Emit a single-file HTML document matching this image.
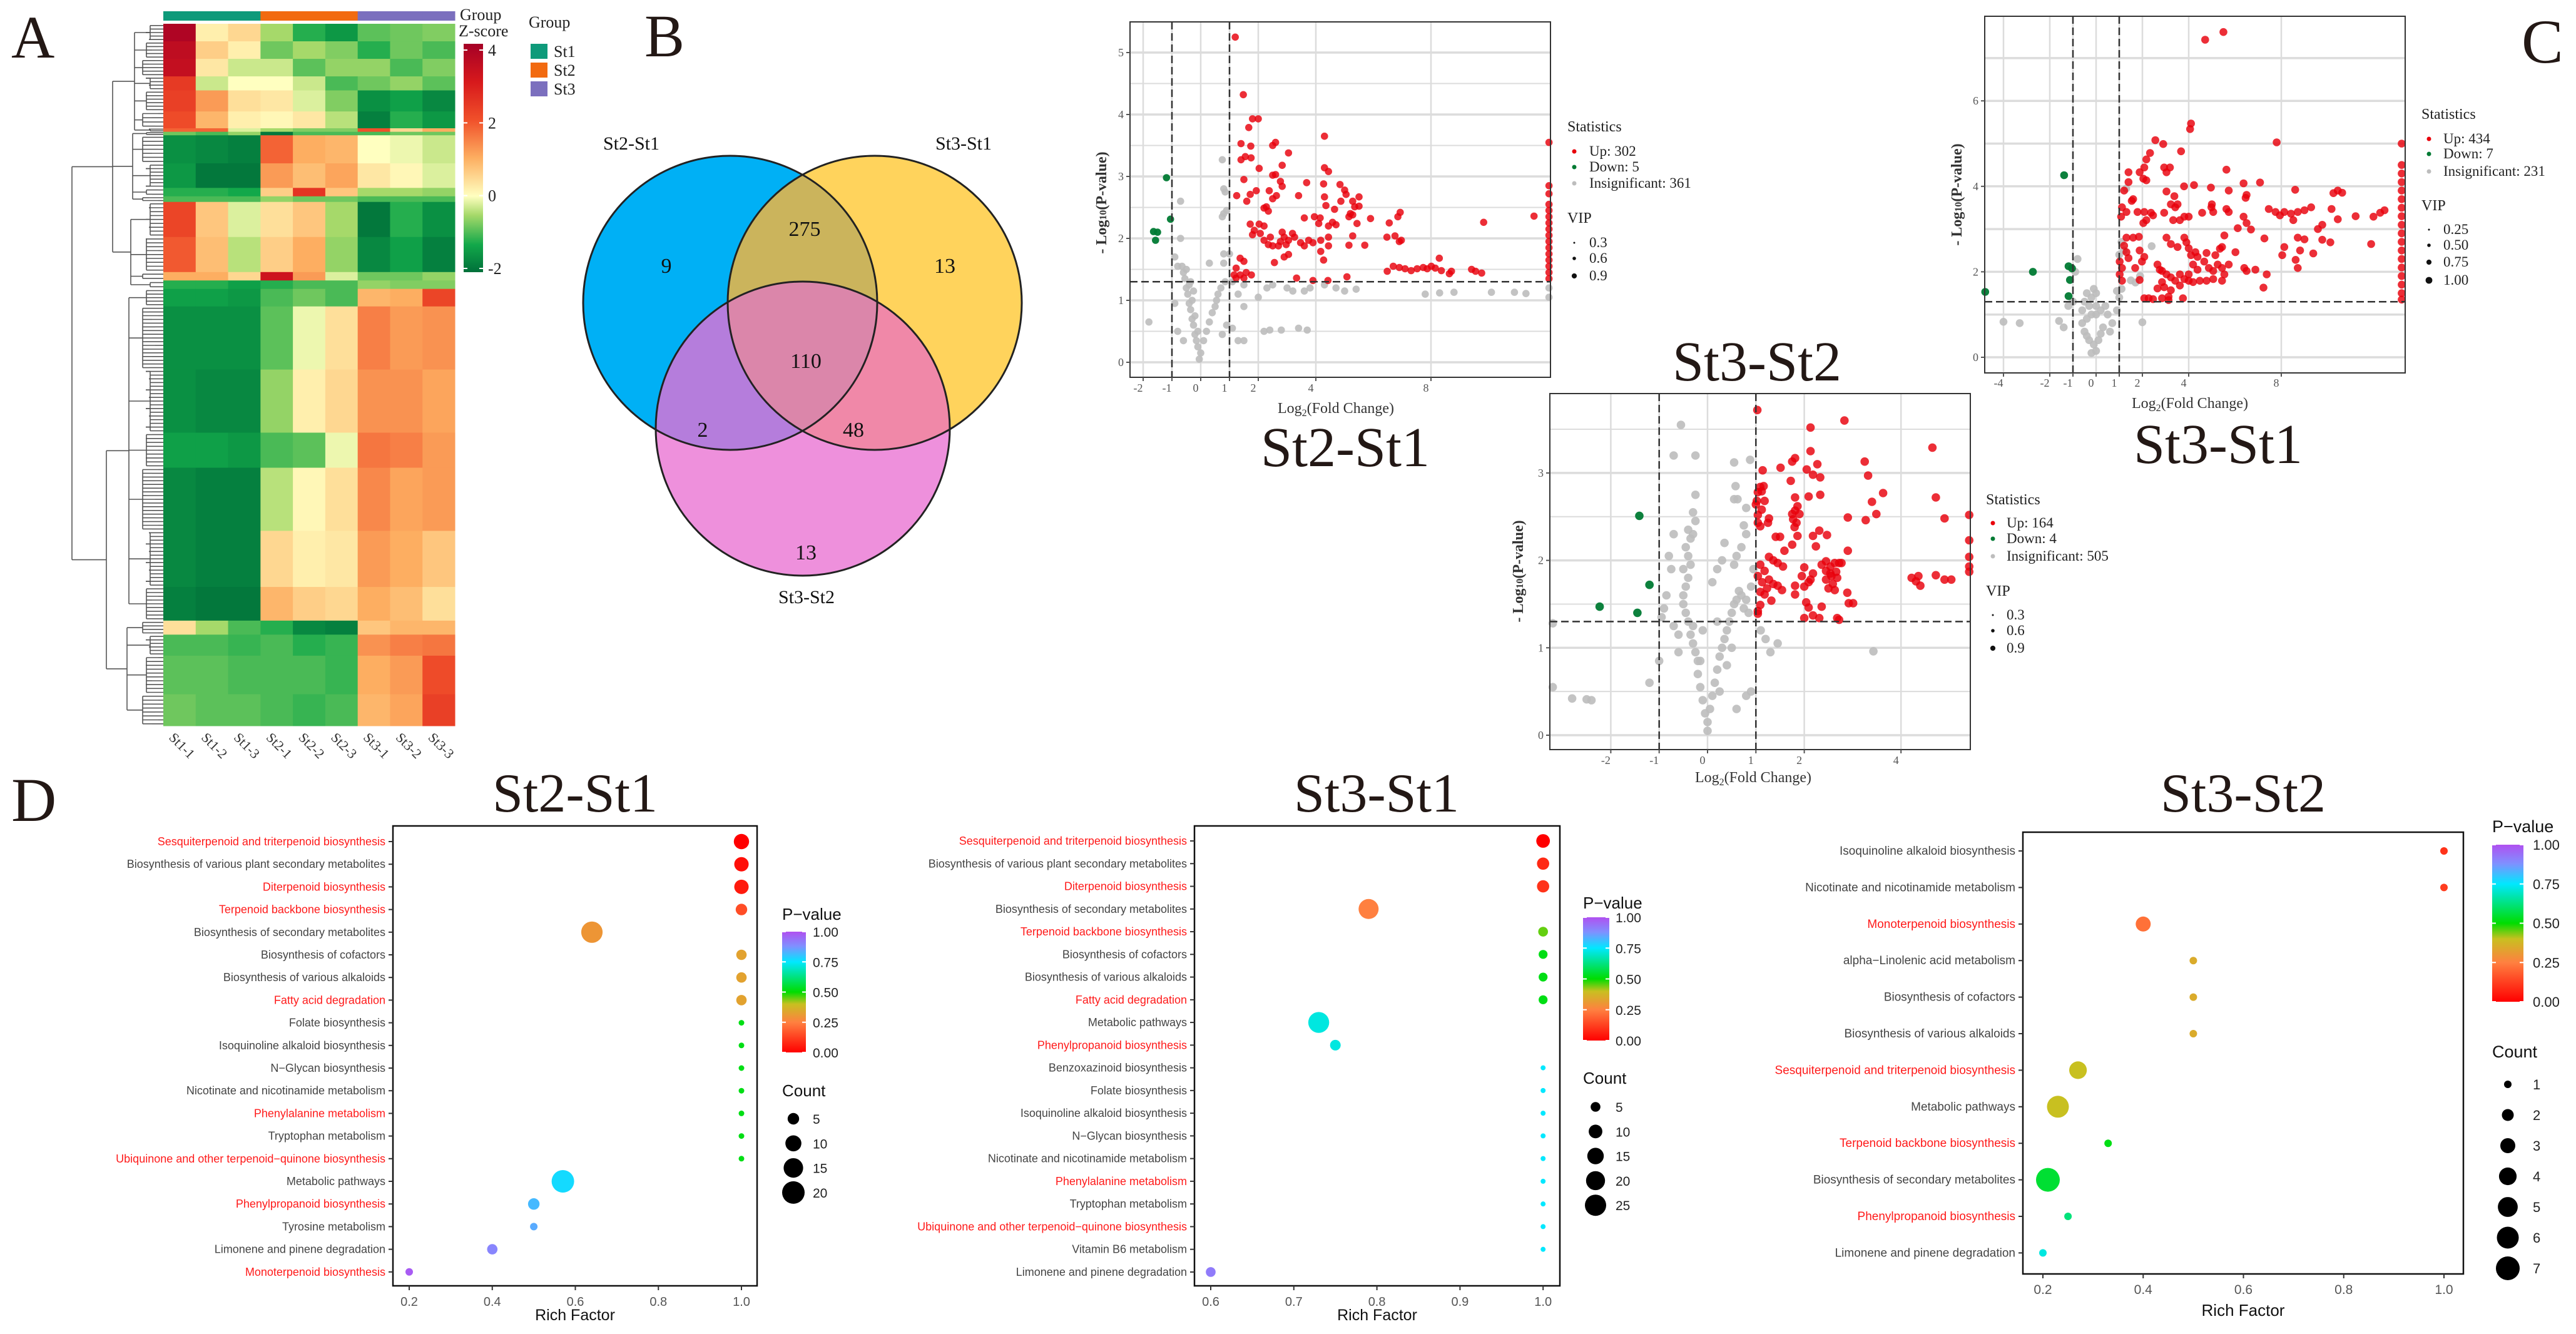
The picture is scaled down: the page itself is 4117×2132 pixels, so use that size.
<!DOCTYPE html>
<html><head><meta charset="utf-8"><title>Figure</title>
<style>html,body{margin:0;padding:0;background:#fff}svg{display:block}</style></head>
<body>
<svg id="fig" xmlns="http://www.w3.org/2000/svg" width="4117" height="2132" viewBox="0 0 4117 2132">
<rect x="0" y="0" width="4117" height="2132" fill="#fff"/>
<defs>
<linearGradient id="zgrad" x1="0" y1="1" x2="0" y2="0">
<stop offset="0" stop-color="#00703a"/><stop offset="0.12" stop-color="#12a84a"/><stop offset="0.25" stop-color="#a6d96a"/><stop offset="0.333" stop-color="#ffffc0"/><stop offset="0.5" stop-color="#fdae61"/><stop offset="0.667" stop-color="#f0502a"/><stop offset="0.833" stop-color="#d7191c"/><stop offset="1" stop-color="#a50026"/>
</linearGradient>
<linearGradient id="pgrad" x1="0" y1="1" x2="0" y2="0">
<stop offset="0" stop-color="#ff0000"/><stop offset="0.25" stop-color="#ff8040"/><stop offset="0.4" stop-color="#c8c020"/><stop offset="0.5" stop-color="#00dd00"/><stop offset="0.75" stop-color="#00e8ff"/><stop offset="0.88" stop-color="#8090ff"/><stop offset="1" stop-color="#b050f0"/>
</linearGradient>
<clipPath id="cBlue"><circle cx="1167" cy="484" r="235"/></clipPath>
<clipPath id="cYellow"><circle cx="1398" cy="484" r="235"/></clipPath>
<clipPath id="cPink"><circle cx="1283" cy="685" r="235"/></clipPath>
</defs>

<text x="18" y="92" font-family="Liberation Serif, serif" font-size="96" fill="#231815">A</text>
<text x="1030" y="90" font-family="Liberation Serif, serif" font-size="96" fill="#231815">B</text>
<text x="4030" y="100" font-family="Liberation Serif, serif" font-size="100" fill="#231815">C</text>
<text x="18" y="1312" font-family="Liberation Serif, serif" font-size="100" fill="#231815">D</text>

<g id="venn">
<circle cx="1167" cy="484" r="235" fill="#00b0f5"/>
<circle cx="1398" cy="484" r="235" fill="#ffd35c"/>
<circle cx="1283" cy="685" r="235" fill="#ee90dc"/>
<g clip-path="url(#cBlue)"><circle cx="1398" cy="484" r="235" fill="#cbb45c"/></g>
<g clip-path="url(#cBlue)"><circle cx="1283" cy="685" r="235" fill="#b57ddc"/></g>
<g clip-path="url(#cYellow)"><circle cx="1283" cy="685" r="235" fill="#f088a8"/></g>
<g clip-path="url(#cBlue)"><g clip-path="url(#cYellow)"><circle cx="1283" cy="685" r="235" fill="#db86aa"/></g></g>
<circle cx="1167" cy="484" r="235" fill="none" stroke="#222" stroke-width="3"/>
<circle cx="1398" cy="484" r="235" fill="none" stroke="#222" stroke-width="3"/>
<circle cx="1283" cy="685" r="235" fill="none" stroke="#222" stroke-width="3"/>
<g font-family="Liberation Serif, serif" font-size="30" fill="#111" text-anchor="middle">
<text x="1009" y="239">St2-St1</text>
<text x="1540" y="239">St3-St1</text>
<text x="1289" y="964">St3-St2</text>
</g>
<g font-family="Liberation Serif, serif" font-size="34" fill="#111" text-anchor="middle">
<text x="1065" y="436">9</text>
<text x="1286" y="377">275</text>
<text x="1510" y="436">13</text>
<text x="1288" y="588">110</text>
<text x="1123" y="698">2</text>
<text x="1364" y="698">48</text>
<text x="1288" y="894">13</text>
</g>
</g>

<g font-family="Liberation Serif, serif" font-size="90" fill="#231815" text-anchor="middle">
<text x="2150" y="745">St2-St1</text>
<text x="3545" y="740">St3-St1</text>
<text x="2808" y="608">St3-St2</text>
</g>
<g font-family="Liberation Serif, serif" font-size="88" fill="#231815" text-anchor="middle">
<text x="919" y="1297">St2-St1</text>
<text x="2200" y="1297">St3-St1</text>
<text x="3585" y="1297">St3-St2</text>
</g>
</svg>

<script>
var hmSamples = ["St1-1","St1-2","St1-3","St2-1","St2-2","St2-3","St3-1","St3-2","St3-3"];
var hmGroups = ["St1","St1","St1","St2","St2","St2","St3","St3","St3"];
var hmBandWeights = [2.5,2.5,2.5,2,3,2.4,0.5, 0.5,4,3.5,1.2,0.8, 5,5,1.2,1.2, 2.5,9,9,5,9,8,4.8, 2,3,5.5,4.5];
var hmBandCluster = [0,0,0,0,0,0,0, 1,1,1,1,1, 2,2,2,2, 3,3,3,3,3,3,3, 4,4,4,4];
var hmBandValues = [
[3.8,0.2,0.5,-0.5,-1.2,-1.5,-0.9,-0.8,-0.7],
[3.5,0.6,0.2,-0.8,-0.5,-0.7,-1.2,-0.8,-1.0],
[3.4,0.3,-0.3,-0.3,-0.9,-0.6,-0.6,-1.0,-0.7],
[2.4,-0.3,0.0,0.0,-0.3,-1.0,-0.8,-0.6,-0.9],
[2.3,1.2,0.4,0.3,-0.2,-0.7,-1.6,-1.4,-1.7],
[2.1,0.9,0.2,0.1,0.3,-0.4,-1.8,-1.2,-1.5],
[1.8,1.8,-0.2,-0.5,-0.7,-0.7,2.0,0.5,1.0],
[-0.8,-1,-0.6,-1.9,-1.0,-1.0,-1.0,-0.8,-0.8],
[-1.6,-1.7,-1.8,1.8,1.0,0.9,0,-0.1,-0.3],
[-1.5,-1.9,-1.9,1.2,0.8,1.1,0.3,0.1,-0.2],
[-1.2,-1.2,-1.3,0.6,2.5,0.7,-0.5,-0.5,-0.6],
[-1,-1,-1,-0.6,-0.8,-0.8,-1,-1,-1],
[2.2,0.7,-0.2,0.4,0.7,-0.5,-1.9,-1.2,-1.6],
[1.9,0.8,-0.4,0.6,1.0,-0.6,-1.7,-1.4,-1.8],
[1.0,1.0,0.5,3.2,1.2,-0.2,-0.8,-0.8,-0.6],
[-1.2,-1.2,-1.4,-1.2,-1.0,-1.0,-0.6,-0.7,-0.7],
[-1.4,-1.4,-1.5,-1.0,-0.8,-1.0,0.9,1.0,2.2],
[-1.6,-1.6,-1.6,-0.9,-0.1,0.4,1.5,1.2,1.3],
[-1.6,-1.7,-1.7,-0.6,0.2,0.5,1.3,1.3,1.1],
[-1.4,-1.4,-1.5,-1.0,-0.9,-0.1,1.6,1.5,1.2],
[-1.7,-1.8,-1.8,-0.4,0.1,0.4,1.4,1.1,1.2],
[-1.7,-1.8,-1.8,0.5,0.2,0.3,1.2,1.0,0.7],
[-1.8,-1.9,-1.9,0.9,0.6,0.5,1.0,0.8,0.4],
[0.4,-0.5,-1.0,-1.2,-1.7,-1.8,0.7,0.9,0.9],
[-1.0,-1.0,-1.1,-1.0,-1.2,-1.1,1.3,1.5,1.6],
[-0.9,-0.9,-1.0,-1.0,-1.0,-1.1,1.0,1.2,2.1],
[-0.8,-0.9,-0.9,-1.0,-1.1,-1.0,0.9,1.1,2.3]
];
var hmZTicks = [4,2,0,-2];

var v1Up = [[1.2,5.25],[1.48,4.32],[1.8,3.93],[2.0,3.93],[1.67,3.79],[1.4,3.53],[1.74,3.49],[1.4,3.27],[1.55,3.32],[1.75,3.3],[2.5,3.5],[2.6,3.55],[3.05,3.38],[2.83,3.18],[2.03,3.13],[2.5,3.02],[2.6,3.03],[1.5,2.95],[2.77,2.92],[2.83,2.84],[1.25,2.69],[1.72,2.71],[1.6,2.6],[1.93,2.77],[2.38,2.77],[2.63,2.69],[2.5,2.64],[2.28,2.51],[2.35,2.44],[2.2,2.49],[3.4,2.69],[3.68,2.9],[4.3,3.65],[4.3,3.14],[4.44,3.08],[4.27,2.88],[4.84,2.87],[5.0,2.78],[5.05,2.71],[4.3,2.67],[4.35,2.53],[5.28,2.6],[5.5,2.67],[5.35,2.51],[5.5,2.52],[4.87,2.6],[4.65,2.47],[3.6,2.33],[3.95,2.35],[4.1,2.24],[4.15,2.33],[4.44,2.2],[4.7,2.22],[4.58,2.26],[5.15,2.35],[5.2,2.4],[5.28,2.38],[5.43,2.24],[5.9,2.32],[2.03,2.23],[1.72,2.23],[1.86,2.13],[1.8,2.06],[2.2,2.2],[2.07,2.08],[2.2,1.97],[2.35,1.9],[2.5,1.88],[2.42,2.02],[2.83,2.1],[2.9,2.02],[3.05,1.97],[3.19,2.08],[2.97,1.9],[2.77,1.95],[2.7,1.88],[3.26,2.02],[3.47,1.93],[3.75,1.97],[3.9,1.93],[3.6,1.88],[3.05,1.74],[2.9,1.7],[2.56,1.61],[4.17,1.97],[4.44,2.02],[4.17,1.79],[4.27,1.65],[4.44,1.88],[5.15,1.89],[5.28,2.04],[5.7,1.89],[6.47,2.02],[6.55,2.25],[6.85,2.35],[6.93,2.42],[6.75,2.04],[6.9,1.95],[6.97,1.97],[1.37,1.68],[1.5,1.63],[1.23,1.52],[1.16,1.41],[1.37,1.41],[1.58,1.45],[1.76,1.41],[1.23,1.36],[1.5,1.36],[3.33,1.36],[3.9,1.32],[4.42,1.32],[5.08,1.38],[6.48,1.47],[6.69,1.55],[6.9,1.53],[7.1,1.51],[7.31,1.48],[7.52,1.51],[7.73,1.53],[7.87,1.51],[8.01,1.55],[8.15,1.52],[8.29,1.68],[8.36,1.48],[8.71,1.47],[8.64,1.43],[9.41,1.5],[9.55,1.47],[9.76,1.44],[9.83,2.26],[11.58,2.36],[12.1,1.35],[12.1,1.45],[12.1,1.55],[12.1,1.65],[12.1,1.75],[12.1,1.85],[12.1,1.95],[12.1,2.05],[12.1,2.15],[12.1,2.25],[12.1,2.35],[12.1,2.45],[12.1,2.55],[12.1,2.72],[12.1,2.85],[12.1,3.55]];
var v1Down = [[-1.19,2.98],[-1.05,2.31],[-1.64,2.11],[-1.5,2.1],[-1.57,1.97]];
var v1Ns = [[-0.05,0.05],[0,0.15],[-0.1,0.25],[-0.15,0.35],[-0.2,0.45],[-0.1,0.5],[-0.25,0.6],[-0.3,0.7],[-0.2,0.75],[-0.35,0.85],[-0.4,0.95],[-0.3,1.0],[-0.45,1.1],[-0.5,1.2],[-0.4,1.25],[-0.55,1.35],[-0.6,1.45],[-0.5,1.5],[-0.65,1.55],[-0.35,1.3],[-0.25,1.15],[0.1,0.35],[0.2,0.5],[0.3,0.65],[0.4,0.8],[0.5,0.9],[0.55,1.0],[0.6,1.1],[0.7,1.2],[0.9,0.6],[0.75,0.45],[0.85,1.3],[0.8,1.6],[1.0,1.75],[0.8,1.75],[0.75,2.35],[0.8,2.4],[0.9,2.45],[0.85,2.75],[0.8,2.8],[0.75,3.27],[-0.7,2.6],[-0.7,2.0],[-0.9,1.7],[-0.8,1.55],[-1.8,0.65],[-0.8,0.5],[-0.6,0.35],[0.3,1.6],[1.1,1.3],[1.3,1.1],[1.5,0.9],[1.5,1.25],[2.0,1.05],[2.3,1.2],[2.5,1.25],[3.0,1.2],[3.2,1.15],[3.6,1.15],[3.8,1.2],[4.3,1.25],[4.7,1.2],[5.0,1.15],[5.4,1.18],[2.2,0.5],[2.4,0.52],[2.8,0.52],[3.4,0.55],[3.7,0.52],[1.3,0.35],[1.5,0.35],[7.8,1.1],[8.3,1.12],[8.8,1.13],[10.1,1.13],[10.9,1.13],[11.3,1.11],[12.1,1.2],[12.1,1.05],[1.1,0.55],[-0.9,0.95]];
var v1XTicks = [-2,-1,0,1,2,4,8];
var v1YTicks = [0,1,2,3,4,5];
var v1Legend = ["Up: 302","Down: 5","Insignificant: 361"];
var v1Vip = ["0.3","0.6","0.9"];

var v2Up = [[4.71,7.43],[5.5,7.61],[4.1,5.47],[4.06,5.34],[7.8,5.03],[2.56,5.08],[2.9,4.99],[3.67,4.82],[2.33,4.78],[2.17,4.63],[2.94,4.44],[3.19,4.44],[3.04,4.33],[2.08,4.44],[1.88,4.33],[1.4,4.33],[5.63,4.39],[2.04,4.18],[2.17,4.14],[1.4,4.1],[3.8,4.0],[4.23,4.03],[4.96,3.97],[6.37,4.07],[7.08,4.09],[5.73,3.9],[8.6,3.92],[1.21,3.9],[1.54,3.66],[1.6,3.7],[3.04,3.88],[3.38,3.77],[6.5,3.8],[6.46,3.73],[10.25,3.84],[10.44,3.9],[10.63,3.85],[1.12,3.51],[1.31,3.4],[1.08,3.29],[1.79,3.4],[2.08,3.4],[2.37,3.38],[2.46,3.32],[2.17,3.21],[2.04,3.14],[2.94,3.38],[3.23,3.58],[3.42,3.51],[3.52,3.58],[3.33,3.21],[3.62,3.21],[3.81,3.29],[4.0,3.29],[4.58,3.38],[5.0,3.58],[4.98,3.51],[5.06,3.4],[5.63,3.47],[5.73,3.4],[6.37,3.29],[6.5,3.14],[6.69,2.99],[6.12,3.02],[7.46,3.47],[7.75,3.4],[7.94,3.32],[8.13,3.4],[8.42,3.36],[8.71,3.4],[9.0,3.44],[9.29,3.51],[8.52,3.21],[10.17,3.47],[10.44,3.23],[11.21,3.3],[11.98,3.29],[12.27,3.38],[12.46,3.44],[9.58,3.0],[9.77,3.1],[1.31,2.8],[1.6,2.8],[1.85,2.82],[1.21,2.61],[3.04,2.8],[3.23,2.65],[3.52,2.58],[3.81,2.8],[3.9,2.69],[4.0,2.55],[4.29,2.46],[4.1,2.39],[4.38,2.35],[4.77,2.44],[5.15,2.39],[5.44,2.58],[5.35,2.54],[6.02,2.46],[5.54,2.85],[7.27,2.78],[8.13,2.58],[8.71,2.8],[9.0,2.76],[8.81,2.5],[9.38,2.43],[9.77,2.75],[10.12,2.69],[11.88,2.65],[8.04,2.39],[8.62,2.28],[8.71,2.09],[1.31,2.46],[1.4,2.32],[1.88,2.5],[1.02,2.24],[1.12,2.09],[1.02,1.94],[1.12,1.79],[1.69,2.09],[1.98,2.24],[2.08,2.35],[2.65,2.17],[2.85,2.02],[2.75,2.05],[3.04,1.94],[3.23,1.87],[3.42,1.79],[3.62,1.94],[3.81,1.83],[4.0,1.94],[4.19,2.17],[4.38,2.05],[4.67,2.24],[4.87,2.09],[5.06,2.02],[5.25,2.17],[5.44,2.09],[5.73,2.17],[4.0,1.79],[4.19,1.76],[4.48,1.79],[4.77,1.79],[5.06,1.83],[5.44,1.79],[5.54,1.94],[2.85,1.76],[2.94,1.64],[3.23,1.57],[3.62,1.68],[2.65,1.61],[3.13,1.42],[2.08,1.38],[2.27,1.38],[2.46,1.36],[2.85,1.38],[3.13,1.34],[3.75,1.38],[1.88,1.81],[6.4,2.09],[6.5,2.02],[6.88,2.05],[7.37,1.94],[7.23,1.63],[13.2,1.35],[13.2,1.5],[13.2,1.7],[13.2,1.9],[13.2,2.1],[13.2,2.3],[13.2,2.5],[13.2,2.7],[13.2,2.9],[13.2,3.1],[13.2,3.3],[13.2,3.5],[13.2,3.7],[13.2,3.9],[13.2,4.1],[13.2,4.3],[13.2,4.5],[13.2,5.0]];
var v2Down = [[-1.38,4.26],[-2.73,2.0],[-4.79,1.53],[-1.19,2.13],[-1.04,2.08],[-1.13,1.81],[-1.19,1.43]];
var v2Ns = [[-0.2,0.1],[0,0.15],[-0.1,0.3],[-0.3,0.4],[0.1,0.4],[-0.4,0.5],[0.2,0.55],[-0.5,0.6],[-0.6,0.8],[0.3,0.7],[-0.4,0.9],[-0.2,1.0],[0,1.0],[-0.6,1.1],[-0.3,1.2],[0,1.2],[0.2,1.1],[-0.5,1.3],[-0.2,1.4],[0,1.5],[-0.4,1.5],[-0.1,1.6],[0.4,1.2],[0.5,1.0],[0.7,0.8],[0.9,1.1],[1.0,1.4],[0.9,1.55],[1.1,1.6],[1.2,2.5],[1.1,2.7],[1.0,2.4],[1.3,3.95],[1.5,1.8],[1.7,1.75],[1.9,1.9],[2.4,2.6],[-1.0,1.3],[-0.9,2.0],[-0.8,2.3],[-1.4,0.7],[-1.6,0.85],[-4.0,0.83],[-3.3,0.8],[2.0,0.82],[0.6,0.6],[-1.2,1.2]];
var v2XTicks = [-4,-2,-1,0,1,2,4,8];
var v2YTicks = [0,2,4,6];
var v2Legend = ["Up: 434","Down: 7","Insignificant: 231"];
var v2Vip = ["0.25","0.50","0.75","1.00"];

var v3Up = [[1.03,3.72],[2.83,3.6],[2.13,3.52],[4.65,3.29],[2.13,3.25],[1.81,3.17],[1.75,3.13],[3.25,3.13],[3.32,2.97],[2.27,3.1],[2.05,3.04],[2.18,2.98],[2.33,2.95],[1.51,3.06],[1.14,3.03],[1.72,2.91],[1.09,2.84],[1.16,2.85],[1.12,2.79],[1.04,2.78],[1.18,2.68],[1.02,2.68],[1.12,2.58],[1.04,2.52],[1.0,2.64],[1.81,2.72],[2.09,2.73],[2.33,2.75],[1.86,2.62],[1.81,2.57],[1.75,2.53],[1.77,2.47],[1.9,2.53],[1.84,2.43],[1.8,2.38],[1.86,2.28],[3.63,2.77],[3.4,2.67],[3.49,2.53],[2.9,2.49],[3.27,2.46],[4.72,2.72],[4.9,2.48],[5.41,2.52],[1.27,2.48],[1.25,2.43],[1.41,2.27],[1.5,2.27],[1.04,2.43],[1.09,2.39],[1.75,2.18],[1.59,2.11],[2.18,2.28],[2.24,2.16],[2.47,2.29],[2.31,2.34],[2.9,2.11],[5.41,2.23],[5.41,2.04],[5.41,1.93],[5.41,1.87],[1.09,1.95],[1.18,1.88],[1.04,1.82],[1.27,1.78],[1.13,1.75],[1.36,1.73],[1.23,1.68],[1.09,1.64],[1.18,1.61],[1.45,1.71],[1.54,1.66],[1.27,2.04],[1.36,2.0],[1.45,1.97],[1.56,1.93],[2.0,1.92],[1.95,1.82],[2.18,1.85],[2.13,1.78],[2.0,1.7],[1.81,1.71],[1.81,1.61],[2.09,1.75],[2.36,1.95],[2.45,1.99],[2.54,1.93],[2.63,1.97],[2.72,1.97],[2.45,1.88],[2.54,1.85],[2.66,1.87],[2.68,1.8],[2.56,1.82],[2.45,1.78],[2.5,1.68],[2.59,1.73],[2.77,1.97],[2.89,1.63],[2.92,1.51],[3.01,1.51],[2.63,1.66],[1.32,1.54],[1.09,1.49],[1.04,1.42],[1.04,1.39],[2.04,1.52],[2.09,1.46],[2.0,1.34],[2.18,1.37],[2.31,1.34],[2.36,1.47],[2.68,1.34],[2.72,1.32],[4.22,1.8],[4.31,1.76],[4.4,1.71],[4.36,1.82],[4.72,1.83],[4.9,1.78],[5.04,1.78]];
var v3Down = [[-1.41,2.51],[-1.2,1.72],[-2.23,1.47],[-1.45,1.4]];
var v3Ns = [[0,0.05],[0,0.15],[-0.05,0.25],[0.05,0.3],[-0.1,0.4],[0.1,0.45],[-0.15,0.55],[0.15,0.6],[-0.2,0.7],[0.2,0.75],[-0.2,0.85],[-0.25,0.95],[0.25,0.9],[0.3,1.0],[-0.3,1.05],[-0.35,1.15],[0.35,1.1],[0.4,1.2],[-0.3,1.25],[-0.4,1.3],[0.45,1.3],[0.5,1.4],[-0.45,1.4],[-0.5,1.5],[0.55,1.5],[0.6,1.55],[-0.5,1.6],[-0.45,1.7],[0.65,1.65],[0.7,1.6],[0.75,1.45],[0.8,1.55],[0.9,1.7],[0.85,1.4],[-0.4,1.8],[-0.5,1.9],[-0.35,1.95],[-0.4,2.05],[-0.45,2.15],[-0.35,2.25],[-0.4,2.35],[-0.3,2.3],[-0.25,2.45],[-0.3,2.55],[-0.7,2.3],[-0.8,2.05],[-0.75,1.9],[-0.85,1.6],[-0.9,1.45],[-0.95,1.35],[-0.7,1.25],[-0.6,1.15],[-1.0,0.85],[-0.25,2.75],[-0.55,3.55],[-0.7,3.2],[-0.25,3.2],[0.55,3.12],[0.88,3.15],[0.58,2.85],[0.62,2.7],[0.55,2.7],[0.8,2.6],[0.35,2.2],[0.3,2.0],[0.55,1.95],[0.6,2.05],[0.7,2.15],[0.8,2.3],[0.75,2.4],[0.1,1.75],[0.2,1.9],[1.1,1.2],[1.2,1.1],[1.45,1.05],[1.3,0.95],[0.6,0.3],[0.8,0.45],[0.9,0.5],[-2.8,0.42],[-2.5,0.41],[-2.4,0.4],[-3.2,0.55],[-3.2,1.28],[-1.2,0.6],[-0.1,1.2],[0.2,1.3],[0.4,0.8],[-0.6,0.95],[3.43,0.96],[0.95,1.9],[0.5,1.0],[-0.15,0.85],[0.25,0.5]];
var v3XTicks = [-2,-1,0,1,2,4];
var v3YTicks = [0,1,2,3];
var v3Legend = ["Up: 164","Down: 4","Insignificant: 505"];
var v3Vip = ["0.3","0.6","0.9"];

var b1Labels = ["Sesquiterpenoid and triterpenoid biosynthesis","Biosynthesis of various plant secondary metabolites","Diterpenoid biosynthesis","Terpenoid backbone biosynthesis","Biosynthesis of secondary metabolites","Biosynthesis of cofactors","Biosynthesis of various alkaloids","Fatty acid degradation","Folate biosynthesis","Isoquinoline alkaloid biosynthesis","N\u2212Glycan biosynthesis","Nicotinate and nicotinamide metabolism","Phenylalanine metabolism","Tryptophan metabolism","Ubiquinone and other terpenoid\u2212quinone biosynthesis","Metabolic pathways","Phenylpropanoid biosynthesis","Tyrosine metabolism","Limonene and pinene degradation","Monoterpenoid biosynthesis"];
var b1Red = [1,0,1,1,0,0,0,1,0,0,0,0,1,0,1,0,1,0,0,1];
var b1Rich = [1.0,1.0,1.0,1.0,0.64,1.0,1.0,1.0,1.0,1.0,1.0,1.0,1.0,1.0,1.0,0.57,0.5,0.5,0.4,0.2];
var b1Count = [9,8,8,5,18,4,4,4,1,1,1,1,1,1,1,20,5,2,4,2];
var b1P = [0.0,0.03,0.05,0.15,0.3,0.33,0.33,0.33,0.52,0.52,0.52,0.52,0.52,0.52,0.52,0.77,0.82,0.84,0.9,0.98];
var b1XTicks = [0.2,0.4,0.6,0.8,1.0];
var b1CountLegend = [5,10,15,20];

var b2Labels = ["Sesquiterpenoid and triterpenoid biosynthesis","Biosynthesis of various plant secondary metabolites","Diterpenoid biosynthesis","Biosynthesis of secondary metabolites","Terpenoid backbone biosynthesis","Biosynthesis of cofactors","Biosynthesis of various alkaloids","Fatty acid degradation","Metabolic pathways","Phenylpropanoid biosynthesis","Benzoxazinoid biosynthesis","Folate biosynthesis","Isoquinoline alkaloid biosynthesis","N\u2212Glycan biosynthesis","Nicotinate and nicotinamide metabolism","Phenylalanine metabolism","Tryptophan metabolism","Ubiquinone and other terpenoid\u2212quinone biosynthesis","Vitamin B6 metabolism","Limonene and pinene degradation"];
var b2Red = [1,0,1,0,1,0,0,1,0,1,0,0,0,0,0,1,0,1,0,0];
var b2Rich = [1.0,1.0,1.0,0.79,1.0,1.0,1.0,1.0,0.73,0.75,1.0,1.0,1.0,1.0,1.0,1.0,1.0,1.0,1.0,0.6];
var b2Count = [10,8,8,22,5,4,4,4,24,6,1,1,1,1,1,1,1,1,1,5];
var b2P = [0.0,0.08,0.1,0.25,0.45,0.52,0.52,0.52,0.72,0.72,0.75,0.75,0.75,0.75,0.75,0.75,0.75,0.75,0.75,0.92];
var b2XTicks = [0.6,0.7,0.8,0.9,1.0];
var b2CountLegend = [5,10,15,20,25];

var b3Labels = ["Isoquinoline alkaloid biosynthesis","Nicotinate and nicotinamide metabolism","Monoterpenoid biosynthesis","alpha\u2212Linolenic acid metabolism","Biosynthesis of cofactors","Biosynthesis of various alkaloids","Sesquiterpenoid and triterpenoid biosynthesis","Metabolic pathways","Terpenoid backbone biosynthesis","Biosynthesis of secondary metabolites","Phenylpropanoid biosynthesis","Limonene and pinene degradation"];
var b3Red = [0,0,1,0,0,0,1,0,1,0,1,0];
var b3Rich = [1.0,1.0,0.4,0.5,0.5,0.5,0.27,0.23,0.33,0.21,0.25,0.2];
var b3Count = [1,1,3,1,1,1,4,6,1,7,1,1];
var b3P = [0.1,0.12,0.22,0.35,0.35,0.35,0.4,0.4,0.52,0.55,0.62,0.72];
var b3XTicks = [0.2,0.4,0.6,0.8,1.0];
var b3CountLegend = [1,2,3,4,5,6,7];
var pTicks = [1.00,0.75,0.50,0.25,0.00];

var NS = "http://www.w3.org/2000/svg";
var svg = document.getElementById('fig');
function el(tag, attrs, parent){
  var e = document.createElementNS(NS, tag);
  for (var k in attrs) e.setAttribute(k, attrs[k]);
  (parent || svg).appendChild(e);
  return e;
}
function txt(str, attrs, parent){
  var e = el('text', attrs, parent);
  e.textContent = str;
  return e;
}
function hex(h){ return [parseInt(h.substr(1,2),16),parseInt(h.substr(3,2),16),parseInt(h.substr(5,2),16)]; }
function lerpColor(stops, v){
  if (v <= stops[0][0]) return stops[0][1];
  for (var i=1;i<stops.length;i++){
    if (v <= stops[i][0]){
      var a=stops[i-1], b=stops[i], t=(v-a[0])/(b[0]-a[0]);
      var ca=hex(a[1]), cb=hex(b[1]);
      return 'rgb('+Math.round(ca[0]+(cb[0]-ca[0])*t)+','+Math.round(ca[1]+(cb[1]-ca[1])*t)+','+Math.round(ca[2]+(cb[2]-ca[2])*t)+')';
    }
  }
  return stops[stops.length-1][1];
}
var zStops = [[-2,'#00703a'],[-1.3,'#12a84a'],[-0.5,'#a6d96a'],[0,'#ffffc0'],[1,'#fdae61'],[2,'#f0502a'],[3,'#d7191c'],[4,'#a50026']];
var pStops = [[0,'#ff0000'],[0.25,'#ff8040'],[0.4,'#c8c020'],[0.5,'#00dd00'],[0.75,'#00e8ff'],[0.88,'#8090ff'],[1,'#b050f0']];

(function(){
  var g = el('g', {});
  
  
  var L=261, R=727, T=38, B=1160;
  var cw = (R-L)/hmSamples.length;
  var total = hmBandWeights.reduce(function(a,b){return a+b;},0);
  var groupColor = {St1:'#0e9a7a', St2:'#f26a10', St3:'#7b6fbe'};
  hmGroups.forEach(function(gr,i){
    var r = el('rect',{x:L+i*cw, y:18, width:cw+0.5, height:15, fill:groupColor[gr]}, g);
    
    
  });
  var y = T;
  var bandY = [];
  hmBandWeights.forEach(function(w,bi){
    var h = w/total*(B-T);
    bandY.push([y, y+h]);
    hmBandValues[bi].forEach(function(v,ci){
      var r = el('rect',{x:L+ci*cw, y:y, width:cw+0.5, height:h+0.5, fill:lerpColor(zStops,v)}, g);
      
      
    });
    y += h;
  });
  hmSamples.forEach(function(s,i){
    var cx = L+(i+0.5)*cw;
    var t = txt(s,{x:cx-18, y:1180, 'font-family':'Liberation Serif, serif','font-size':22, fill:'#333', transform:'rotate(45 '+(cx-18)+' 1180)'}, g);
    
    
  });
  var dg = el('g',{stroke:'#555','stroke-width':1.6, fill:'none'}, g);
  
  
  var clusterRange = {};
  bandY.forEach(function(b,bi){
    var n = Math.max(2, Math.round((b[1]-b[0])/6));
    var step = (b[1]-b[0])/n;
    var jx = 240 - (bi%3)*6;
    for (var k=0;k<n;k++){
      var ly = b[0]+step*(k+0.5);
      var lx = 261 - 8 - ((k*7+bi*3)%5)*5;
      el('path',{d:'M261 '+ly.toFixed(1)+'H'+lx}, dg);
      el('path',{d:'M'+lx+' '+ly.toFixed(1)+'H'+jx}, dg);
    }
    el('path',{d:'M'+jx+' '+(b[0]+step/2).toFixed(1)+'V'+(b[1]-step/2).toFixed(1)}, dg);
    var c = hmBandCluster[bi];
    var mid = (b[0]+b[1])/2;
    if (!clusterRange[c]) clusterRange[c]=[mid,mid]; else clusterRange[c][1]=mid;
    el('path',{d:'M'+jx+' '+mid.toFixed(1)+'H'+(215-c*3)}, dg);
  });
  var mids = [];
  for (var c=0;c<5;c++){
    var x = 215-c*3;
    el('path',{d:'M'+x+' '+clusterRange[c][0].toFixed(1)+'V'+clusterRange[c][1].toFixed(1)}, dg);
    var m=(clusterRange[c][0]+clusterRange[c][1])/2; mids.push(m);
    el('path',{d:'M'+x+' '+m.toFixed(1)+'H'+(c<3?180:170)}, dg);
  }
  el('path',{d:'M180 '+mids[0].toFixed(1)+'V'+mids[2].toFixed(1)}, dg);
  el('path',{d:'M170 '+mids[3].toFixed(1)+'V'+mids[4].toFixed(1)}, dg);
  var m1=(mids[0]+mids[2])/2, m2=(mids[3]+mids[4])/2;
  el('path',{d:'M180 '+m1.toFixed(1)+'H115M170 '+m2.toFixed(1)+'H115M115 '+m1.toFixed(1)+'V'+m2.toFixed(1)}, dg);
  var t1 = txt('Group',{x:735,y:32,'font-family':'Liberation Serif, serif','font-size':26,fill:'#222'}, g);
  
  
  var t2 = txt('Z-score',{x:733,y:58,'font-family':'Liberation Serif, serif','font-size':26,fill:'#222'}, g);
  
  
  var cb = el('rect',{x:741,y:70,width:31,height:365,fill:'url(#zgrad)'}, g);
  
  
  var zy = function(v){ return 429 - (v+2)/6*(429-80); };
  hmZTicks.forEach(function(v){
    el('path',{d:'M741 '+zy(v)+'h6M766 '+zy(v)+'h6',stroke:'#fff','stroke-width':2}, g);
    var t = txt(String(v),{x:780,y:zy(v)+9,'font-family':'Liberation Serif, serif','font-size':26,fill:'#222'}, g);
    
    
  });
  var t3 = txt('Group',{x:845,y:44,'font-family':'Liberation Serif, serif','font-size':26,fill:'#222'}, g);
  
  
  ['St1','St2','St3'].forEach(function(s,i){
    var r = el('rect',{x:848,y:70+i*30,width:27,height:24,fill:groupColor[s]}, g);
    
    
    var t = txt(s,{x:885,y:91+i*30,'font-family':'Liberation Serif, serif','font-size':26,fill:'#222'}, g);
    
    
  });
})();

function volcano(c){
  var g = el('g', {});
  
  
  var X = function(v){ return c.x0 + c.ux*v; };
  var Y = function(p){ return c.y0 - c.uy*p; };
  var bx = c.box;
  var gg = el('g',{stroke:'#dcdcdc'}, g);
  
  
  for (var p=0; Y(p) > bx[1]; p += c.gstep){
    el('path',{d:'M'+bx[0]+' '+Y(p)+'H'+bx[2],'stroke-width':(Math.abs(p-Math.round(p))<1e-6)?3.5:2}, gg);
  }
  c.xticks.forEach(function(v){
    el('path',{d:'M'+X(v)+' '+bx[1]+'V'+bx[3],'stroke-width':2.5}, gg);
  });
  function pts(arr, color, name, op){
    arr.forEach(function(d){
      var cc = el('circle',{cx:X(d[0]).toFixed(1), cy:Y(d[1]).toFixed(1), r:c.r, fill:color, 'fill-opacity':op}, g);
      
      
    });
  }
  pts(c.ns,'#bdbdbd','point-insignificant',0.9);
  pts(c.up,'#e8000b','point-up',0.82);
  pts(c.down,'#007a33','point-down',0.95);
  var dl = el('g',{stroke:'#333','stroke-width':2.5,'stroke-dasharray':'12 6',fill:'none'}, g);
  
  
  el('path',{d:'M'+X(-1)+' '+bx[1]+'V'+bx[3]}, dl);
  el('path',{d:'M'+X(1)+' '+bx[1]+'V'+bx[3]}, dl);
  el('path',{d:'M'+bx[0]+' '+Y(1.3)+'H'+bx[2]}, dl);
  var fr = el('rect',{x:bx[0],y:bx[1],width:bx[2]-bx[0],height:bx[3]-bx[1],fill:'none',stroke:'#333','stroke-width':2}, g);
  
  
  c.yticks.forEach(function(v){
    el('path',{d:'M'+(bx[0]-6)+' '+Y(v)+'H'+bx[0],stroke:'#555','stroke-width':2}, g);
    var t = txt(String(v),{x:bx[0]-10,y:Y(v)+6,'text-anchor':'end','font-family':'Liberation Serif, serif','font-size':18,fill:'#555'}, g);
    
    
  });
  c.xticks.forEach(function(v){
    el('path',{d:'M'+X(v)+' '+bx[3]+'V'+(bx[3]+6),stroke:'#555','stroke-width':2}, g);
    var t = txt(String(v),{x:X(v)-8,y:c.tickY,'text-anchor':'middle','font-family':'Liberation Serif, serif','font-size':18,fill:'#555'}, g);
    
    
  });
  var yl = el('text',{x:c.ylab[0],y:c.ylab[1],'text-anchor':'middle','font-family':'Liberation Serif, serif','font-size':24,'font-weight':'bold',fill:'#333',transform:'rotate(-90 '+c.ylab[0]+' '+c.ylab[1]+')'}, g);
  
  
  yl.innerHTML = '- Log<tspan font-size="16">10</tspan>(P-value)';
  var xl = el('text',{x:c.xlab[0],y:c.xlab[1],'text-anchor':'middle','font-family':'Liberation Serif, serif','font-size':24,fill:'#333'}, g);
  
  
  xl.innerHTML = 'Log<tspan font-size="16" dy="5">2</tspan><tspan dy="-5">(Fold Change)</tspan>';
  var L = c.leg;
  var st = txt('Statistics',{x:L.x,y:L.sy,'font-family':'Liberation Serif, serif','font-size':24,fill:'#222'}, g);
  
  
  var cols = ['#e8000b','#007a33','#bdbdbd'];
  c.legend.forEach(function(s,i){
    var d = el('circle',{cx:L.dx,cy:L.items[i]-7,r:3.5,fill:cols[i]}, g);
    
    
    var t = txt(s,{x:L.tx,y:L.items[i],'font-family':'Liberation Serif, serif','font-size':23,fill:'#222'}, g);
    
    
  });
  var vt = txt('VIP',{x:L.x,y:L.vy,'font-family':'Liberation Serif, serif','font-size':24,fill:'#222'}, g);
  
  
  c.vip.forEach(function(s,i){
    var d = el('circle',{cx:L.dx,cy:L.vips[i]-7,r:1.5+i*1.3,fill:'#111'}, g);
    
    
    var t = txt(s,{x:L.tx,y:L.vips[i],'font-family':'Liberation Serif, serif','font-size':23,fill:'#222'}, g);
    
    
  });
}
volcano({name:'volcano-st2-st1', box:[1806,35,2478,603], x0:1919, ux:46, y0:579, uy:99, gstep:0.5, r:5.8,
  xticks:v1XTicks, yticks:v1YTicks, up:v1Up, down:v1Down, ns:v1Ns, tickY:626, ylab:[1768,324], xlab:[2135,660],
  legend:v1Legend, vip:v1Vip, leg:{x:2505,sy:210,dx:2516,tx:2540,items:[249,274,300],vy:356,vips:[395,420,448]}});
volcano({name:'volcano-st3-st1', box:[3172,26,3844,596], x0:3350, ux:37, y0:571, uy:68.3, gstep:1, r:6.3,
  xticks:v2XTicks, yticks:v2YTicks, up:v2Up, down:v2Down, ns:v2Ns, tickY:618, ylab:[3135,311], xlab:[3500,652],
  legend:v2Legend, vip:v2Vip, leg:{x:3870,sy:190,dx:3882,tx:3905,items:[229,253,281],vy:336,vips:[374,399,426,455]}});
volcano({name:'volcano-st3-st2', box:[2477,629,3149,1198], x0:2729, ux:77.3, y0:1175, uy:139.7, gstep:0.5, r:6.8,
  xticks:v3XTicks, yticks:v3YTicks, up:v3Up, down:v3Down, ns:v3Ns, tickY:1221, ylab:[2434,913], xlab:[2802,1250],
  legend:v3Legend, vip:v3Vip, leg:{x:3174,sy:806,dx:3185,tx:3207,items:[843,868,896],vy:952,vips:[990,1015,1043]}});

function bubble(c){
  var g = el('g', {});
  
  
  var bx = c.box;
  var X = function(v){ return c.xa + (v - c.xv0)*c.xu; };
  var Yr = function(i){ return c.row0 + i*c.rowStep; };
  var cmin = c.cdom[0], cmax = c.cdom[1];
  var R = function(cnt){ return Math.sqrt(c.rr[0]*c.rr[0] + (c.rr[1]*c.rr[1]-c.rr[0]*c.rr[0])*(cnt-cmin)/(cmax-cmin)); };
  var fr = el('rect',{x:bx[0],y:bx[1],width:bx[2]-bx[0],height:bx[3]-bx[1],fill:'#fff',stroke:'#111','stroke-width':2.5}, g);
  
  
  c.labels.forEach(function(s,i){
    el('path',{d:'M'+(bx[0]-7)+' '+Yr(i)+'H'+bx[0],stroke:'#333','stroke-width':2}, g);
    var t = txt(s,{x:bx[0]-12,y:Yr(i)+6,'text-anchor':'end','font-family':'Liberation Sans, sans-serif','font-size':c.fs,fill:c.red[i]?'#ff1a1a':'#444'}, g);
    
    
    var cc = el('circle',{cx:X(c.rich[i]).toFixed(1),cy:Yr(i),r:R(c.count[i]).toFixed(1),fill:lerpColor(pStops,c.p[i])}, g);
    
    
  });
  c.xticks.forEach(function(v){
    el('path',{d:'M'+X(v)+' '+bx[3]+'V'+(bx[3]+7),stroke:'#333','stroke-width':2}, g);
    var t = txt(v.toFixed(1),{x:X(v),y:bx[3]+32,'text-anchor':'middle','font-family':'Liberation Sans, sans-serif','font-size':c.fs+2,fill:'#555'}, g);
    
    
  });
  var xt = txt('Rich Factor',{x:(bx[0]+bx[2])/2,y:c.xlabY,'text-anchor':'middle','font-family':'Liberation Sans, sans-serif','font-size':c.fs+7,fill:'#111'}, g);
  
  
  var L = c.leg;
  var pt = txt('P\u2212value',{x:L.x,y:L.pTitle,'font-family':'Liberation Sans, sans-serif','font-size':c.fs+8,fill:'#111'}, g);
  
  
  var cb = el('rect',{x:L.x,y:L.cbTop,width:L.cbW,height:L.cbBot-L.cbTop,fill:'url(#pgrad)'}, g);
  
  
  pTicks.forEach(function(v){
    var yy = L.cbBot - v*(L.cbBot-L.cbTop);
    el('path',{d:'M'+L.x+' '+yy+'h6M'+(L.x+L.cbW-6)+' '+yy+'h6',stroke:'#fff','stroke-width':2}, g);
    var t = txt(v.toFixed(2),{x:L.tx,y:yy+8,'font-family':'Liberation Sans, sans-serif','font-size':c.fs+3,fill:'#222'}, g);
    
    
  });
  var ct = txt('Count',{x:L.x,y:L.cTitle,'font-family':'Liberation Sans, sans-serif','font-size':c.fs+8,fill:'#111'}, g);
  
  
  c.clegend.forEach(function(v,i){
    var yy = L.c0 + i*L.cStep;
    var d = el('circle',{cx:L.dx,cy:yy,r:R(v).toFixed(1),fill:'#000'}, g);
    
    
    var t = txt(String(v),{x:L.tx,y:yy+8,'font-family':'Liberation Sans, sans-serif','font-size':c.fs+3,fill:'#222'}, g);
    
    
  });
}
bubble({name:'bubble-st2-st1', box:[628,1320,1210,2055], xa:654, xv0:0.2, xu:663.75, row0:1345, rowStep:36.2, fs:18, xlabY:2110,
  labels:b1Labels, red:b1Red, rich:b1Rich, count:b1Count, p:b1P, xticks:b1XTicks, clegend:b1CountLegend, cdom:[1,20], rr:[4.5,18],
  leg:{x:1250,pTitle:1470,cbTop:1489,cbBot:1682,cbW:38,tx:1299,cTitle:1752,c0:1788,cStep:39.3,dx:1268}});
bubble({name:'bubble-st3-st1', box:[1909,1320,2493,2055], xa:1935, xv0:0.6, xu:1328, row0:1344, rowStep:36.26, fs:18, xlabY:2110,
  labels:b2Labels, red:b2Red, rich:b2Rich, count:b2Count, p:b2P, xticks:b2XTicks, clegend:b2CountLegend, cdom:[1,25], rr:[4,17],
  leg:{x:2530,pTitle:1452,cbTop:1466,cbBot:1663,cbW:42,tx:2582,cTitle:1732,c0:1769,cStep:39.3,dx:2550}});
bubble({name:'bubble-st3-st2', box:[3233,1330,3937,2036], xa:3265, xv0:0.2, xu:801.25, row0:1360, rowStep:58.4, fs:19, xlabY:2103,
  labels:b3Labels, red:b3Red, rich:b3Rich, count:b3Count, p:b3P, xticks:b3XTicks, clegend:b3CountLegend, cdom:[1,7], rr:[6,19],
  leg:{x:3983,pTitle:1330,cbTop:1350,cbBot:1601,cbW:50,tx:4048,cTitle:1690,c0:1733,cStep:49,dx:4008}});
</script>
</body></html>
